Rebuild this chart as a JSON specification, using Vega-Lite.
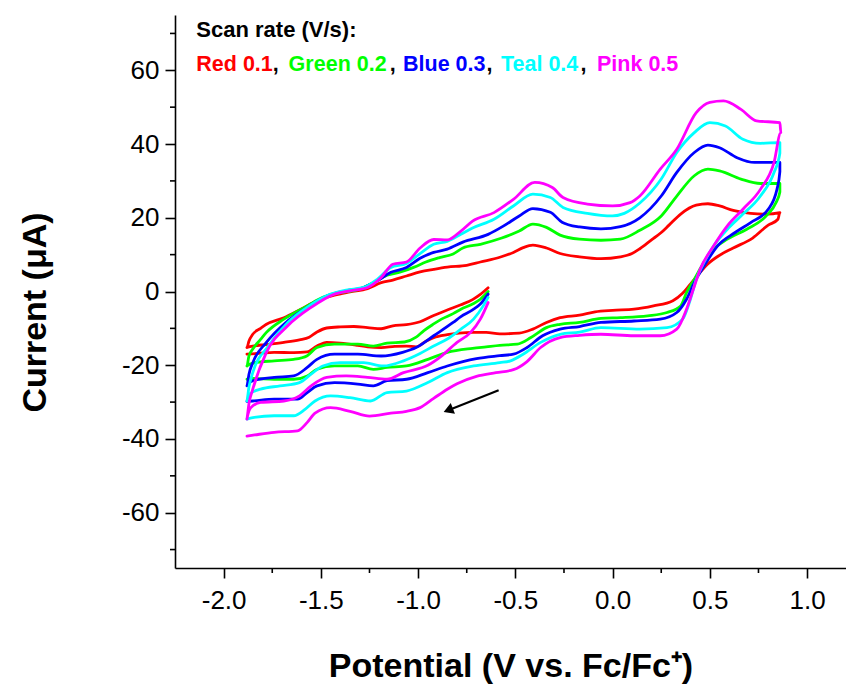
{
"$schema":"https://vega.github.io/schema/vega-lite/v6.json",
"width":671,"height":553,
"autosize":{"type":"none"},
"padding":{"left":175,"top":15,"right":0,"bottom":119},
"config":{"view":{"stroke":null},"background":"white"},
"datasets":{
"cv":[
{"s":"0.1","i":1,"x":-0.64,"y":1.0},{"s":"0.1","i":2,"x":-0.68,"y":-0.8},{"s":"0.1","i":3,"x":-0.72,"y":-2.2},{"s":"0.1","i":4,"x":-0.78,"y":-3.6},{"s":"0.1","i":5,"x":-0.85,"y":-5.0},{"s":"0.1","i":6,"x":-0.92,"y":-6.5},{"s":"0.1","i":7,"x":-0.99,"y":-8.2},{"s":"0.1","i":8,"x":-1.06,"y":-9.0},{"s":"0.1","i":9,"x":-1.13,"y":-9.3},{"s":"0.1","i":10,"x":-1.19,"y":-10.1},{"s":"0.1","i":11,"x":-1.26,"y":-9.8},{"s":"0.1","i":12,"x":-1.33,"y":-9.5},{"s":"0.1","i":13,"x":-1.40,"y":-9.6},{"s":"0.1","i":14,"x":-1.47,"y":-9.9},{"s":"0.1","i":15,"x":-1.52,"y":-11.0},{"s":"0.1","i":16,"x":-1.56,"y":-12.4},{"s":"0.1","i":17,"x":-1.61,"y":-13.1},{"s":"0.1","i":18,"x":-1.69,"y":-13.8},{"s":"0.1","i":19,"x":-1.78,"y":-14.4},{"s":"0.1","i":20,"x":-1.85,"y":-14.8},{"s":"0.1","i":21,"x":-1.88,"y":-15.2},
{"s":"0.1","i":22,"x":-1.87,"y":-13.5},{"s":"0.1","i":23,"x":-1.85,"y":-11.6},{"s":"0.1","i":24,"x":-1.81,"y":-10.0},{"s":"0.1","i":25,"x":-1.78,"y":-8.9},{"s":"0.1","i":26,"x":-1.69,"y":-7.1},{"s":"0.1","i":27,"x":-1.61,"y":-5.0},{"s":"0.1","i":28,"x":-1.52,"y":-2.5},{"s":"0.1","i":29,"x":-1.43,"y":-1.0},{"s":"0.1","i":30,"x":-1.35,"y":-0.1},{"s":"0.1","i":31,"x":-1.26,"y":0.8},{"s":"0.1","i":32,"x":-1.19,"y":2.4},{"s":"0.1","i":33,"x":-1.13,"y":3.1},{"s":"0.1","i":34,"x":-1.06,"y":4.2},{"s":"0.1","i":35,"x":-0.99,"y":5.3},{"s":"0.1","i":36,"x":-0.92,"y":6.0},{"s":"0.1","i":37,"x":-0.85,"y":6.6},{"s":"0.1","i":38,"x":-0.75,"y":7.1},{"s":"0.1","i":39,"x":-0.68,"y":8.0},{"s":"0.1","i":40,"x":-0.58,"y":9.3},{"s":"0.1","i":41,"x":-0.51,"y":10.6},{"s":"0.1","i":42,"x":-0.46,"y":11.9},{"s":"0.1","i":43,"x":-0.41,"y":12.6},{"s":"0.1","i":44,"x":-0.34,"y":11.8},{"s":"0.1","i":45,"x":-0.27,"y":10.3},{"s":"0.1","i":46,"x":-0.17,"y":9.4},{"s":"0.1","i":47,"x":-0.06,"y":8.9},{"s":"0.1","i":48,"x":0.04,"y":9.4},{"s":"0.1","i":49,"x":0.10,"y":10.3},{"s":"0.1","i":50,"x":0.14,"y":11.6},{"s":"0.1","i":51,"x":0.20,"y":14.0},{"s":"0.1","i":52,"x":0.25,"y":16.0},{"s":"0.1","i":53,"x":0.29,"y":18.0},{"s":"0.1","i":54,"x":0.35,"y":21.0},{"s":"0.1","i":55,"x":0.43,"y":23.4},{"s":"0.1","i":56,"x":0.49,"y":23.8},{"s":"0.1","i":57,"x":0.55,"y":23.2},{"s":"0.1","i":58,"x":0.62,"y":22.0},{"s":"0.1","i":59,"x":0.71,"y":21.2},{"s":"0.1","i":60,"x":0.79,"y":21.0},{"s":"0.1","i":61,"x":0.86,"y":21.4},
{"s":"0.1","i":62,"x":0.85,"y":19.6},{"s":"0.1","i":63,"x":0.80,"y":18.0},{"s":"0.1","i":64,"x":0.72,"y":14.5},{"s":"0.1","i":65,"x":0.62,"y":11.8},{"s":"0.1","i":66,"x":0.54,"y":9.5},{"s":"0.1","i":67,"x":0.48,"y":7.0},{"s":"0.1","i":68,"x":0.44,"y":4.5},{"s":"0.1","i":69,"x":0.40,"y":2.0},{"s":"0.1","i":70,"x":0.36,"y":-0.5},{"s":"0.1","i":71,"x":0.31,"y":-2.5},{"s":"0.1","i":72,"x":0.21,"y":-3.9},{"s":"0.1","i":73,"x":0.11,"y":-4.8},{"s":"0.1","i":74,"x":0.00,"y":-5.1},{"s":"0.1","i":75,"x":-0.09,"y":-5.5},{"s":"0.1","i":76,"x":-0.17,"y":-6.4},{"s":"0.1","i":77,"x":-0.27,"y":-7.1},{"s":"0.1","i":78,"x":-0.34,"y":-8.4},{"s":"0.1","i":79,"x":-0.41,"y":-10.2},{"s":"0.1","i":80,"x":-0.48,"y":-11.3},{"s":"0.1","i":81,"x":-0.58,"y":-11.5},{"s":"0.1","i":82,"x":-0.65,"y":-11.1},{"s":"0.1","i":83,"x":-0.72,"y":-11.1},{"s":"0.1","i":84,"x":-0.79,"y":-11.3},{"s":"0.1","i":85,"x":-0.85,"y":-11.7},{"s":"0.1","i":86,"x":-0.92,"y":-12.5},{"s":"0.1","i":87,"x":-0.96,"y":-13.5},{"s":"0.1","i":88,"x":-1.01,"y":-15.0},{"s":"0.1","i":89,"x":-1.06,"y":-14.8},{"s":"0.1","i":90,"x":-1.12,"y":-14.9},{"s":"0.1","i":91,"x":-1.19,"y":-15.2},{"s":"0.1","i":92,"x":-1.26,"y":-15.0},{"s":"0.1","i":93,"x":-1.31,"y":-14.6},{"s":"0.1","i":94,"x":-1.40,"y":-14.0},{"s":"0.1","i":95,"x":-1.47,"y":-13.8},{"s":"0.1","i":96,"x":-1.52,"y":-14.8},{"s":"0.1","i":97,"x":-1.57,"y":-16.4},{"s":"0.1","i":98,"x":-1.64,"y":-16.6},{"s":"0.1","i":99,"x":-1.74,"y":-16.5},{"s":"0.1","i":100,"x":-1.82,"y":-16.8},{"s":"0.1","i":101,"x":-1.88,"y":-17.0},

{"s":"0.2","i":1,"x":-0.64,"y":0.0},{"s":"0.2","i":2,"x":-0.68,"y":-2.1},{"s":"0.2","i":3,"x":-0.72,"y":-3.4},{"s":"0.2","i":4,"x":-0.78,"y":-4.8},{"s":"0.2","i":5,"x":-0.82,"y":-6.0},{"s":"0.2","i":6,"x":-0.88,"y":-7.5},{"s":"0.2","i":7,"x":-0.92,"y":-8.8},{"s":"0.2","i":8,"x":-0.97,"y":-10.6},{"s":"0.2","i":9,"x":-1.01,"y":-12.4},{"s":"0.2","i":10,"x":-1.07,"y":-13.7},{"s":"0.2","i":11,"x":-1.16,"y":-14.0},{"s":"0.2","i":12,"x":-1.23,"y":-14.8},{"s":"0.2","i":13,"x":-1.31,"y":-14.3},{"s":"0.2","i":14,"x":-1.43,"y":-14.3},{"s":"0.2","i":15,"x":-1.52,"y":-15.2},{"s":"0.2","i":16,"x":-1.57,"y":-17.4},{"s":"0.2","i":17,"x":-1.64,"y":-18.4},{"s":"0.2","i":18,"x":-1.74,"y":-18.8},{"s":"0.2","i":19,"x":-1.85,"y":-19.4},{"s":"0.2","i":20,"x":-1.88,"y":-20.2},
{"s":"0.2","i":21,"x":-1.87,"y":-17.5},{"s":"0.2","i":22,"x":-1.85,"y":-15.6},{"s":"0.2","i":23,"x":-1.81,"y":-13.0},{"s":"0.2","i":24,"x":-1.78,"y":-11.1},{"s":"0.2","i":25,"x":-1.69,"y":-7.5},{"s":"0.2","i":26,"x":-1.57,"y":-3.9},{"s":"0.2","i":27,"x":-1.49,"y":-1.6},{"s":"0.2","i":28,"x":-1.40,"y":-0.3},{"s":"0.2","i":29,"x":-1.31,"y":0.5},{"s":"0.2","i":30,"x":-1.23,"y":2.4},{"s":"0.2","i":31,"x":-1.16,"y":4.4},{"s":"0.2","i":32,"x":-1.09,"y":5.3},{"s":"0.2","i":33,"x":-1.02,"y":6.6},{"s":"0.2","i":34,"x":-0.96,"y":8.0},{"s":"0.2","i":35,"x":-0.89,"y":9.2},{"s":"0.2","i":36,"x":-0.82,"y":10.2},{"s":"0.2","i":37,"x":-0.77,"y":11.8},{"s":"0.2","i":38,"x":-0.68,"y":12.8},{"s":"0.2","i":39,"x":-0.57,"y":14.5},{"s":"0.2","i":40,"x":-0.48,"y":16.4},{"s":"0.2","i":41,"x":-0.41,"y":18.3},{"s":"0.2","i":42,"x":-0.34,"y":17.4},{"s":"0.2","i":43,"x":-0.27,"y":15.3},{"s":"0.2","i":44,"x":-0.17,"y":14.2},{"s":"0.2","i":45,"x":-0.06,"y":13.9},{"s":"0.2","i":46,"x":0.04,"y":14.2},{"s":"0.2","i":47,"x":0.14,"y":16.6},{"s":"0.2","i":48,"x":0.25,"y":20.5},{"s":"0.2","i":49,"x":0.33,"y":25.9},{"s":"0.2","i":50,"x":0.42,"y":31.4},{"s":"0.2","i":51,"x":0.49,"y":33.2},{"s":"0.2","i":52,"x":0.55,"y":32.7},{"s":"0.2","i":53,"x":0.66,"y":30.5},{"s":"0.2","i":54,"x":0.76,"y":29.3},{"s":"0.2","i":55,"x":0.86,"y":29.3},
{"s":"0.2","i":56,"x":0.86,"y":27.0},{"s":"0.2","i":57,"x":0.84,"y":24.1},{"s":"0.2","i":58,"x":0.79,"y":20.5},{"s":"0.2","i":59,"x":0.69,"y":16.9},{"s":"0.2","i":60,"x":0.59,"y":14.2},{"s":"0.2","i":61,"x":0.52,"y":11.5},{"s":"0.2","i":62,"x":0.47,"y":7.9},{"s":"0.2","i":63,"x":0.42,"y":3.3},{"s":"0.2","i":64,"x":0.38,"y":-0.3},{"s":"0.2","i":65,"x":0.35,"y":-3.9},{"s":"0.2","i":66,"x":0.28,"y":-5.7},{"s":"0.2","i":67,"x":0.18,"y":-6.6},{"s":"0.2","i":68,"x":0.04,"y":-7.1},{"s":"0.2","i":69,"x":-0.06,"y":-7.3},{"s":"0.2","i":70,"x":-0.17,"y":-8.4},{"s":"0.2","i":71,"x":-0.27,"y":-8.9},{"s":"0.2","i":72,"x":-0.34,"y":-9.8},{"s":"0.2","i":73,"x":-0.42,"y":-12.5},{"s":"0.2","i":74,"x":-0.49,"y":-14.3},{"s":"0.2","i":75,"x":-0.58,"y":-14.6},{"s":"0.2","i":76,"x":-0.65,"y":-15.0},{"s":"0.2","i":77,"x":-0.72,"y":-15.4},{"s":"0.2","i":78,"x":-0.85,"y":-16.5},{"s":"0.2","i":79,"x":-0.95,"y":-18.4},{"s":"0.2","i":80,"x":-1.06,"y":-20.2},{"s":"0.2","i":81,"x":-1.16,"y":-20.6},{"s":"0.2","i":82,"x":-1.23,"y":-21.1},{"s":"0.2","i":83,"x":-1.31,"y":-20.2},{"s":"0.2","i":84,"x":-1.43,"y":-20.2},{"s":"0.2","i":85,"x":-1.52,"y":-21.1},{"s":"0.2","i":86,"x":-1.57,"y":-22.9},{"s":"0.2","i":87,"x":-1.64,"y":-23.8},{"s":"0.2","i":88,"x":-1.74,"y":-23.8},{"s":"0.2","i":89,"x":-1.85,"y":-23.6},{"s":"0.2","i":90,"x":-1.88,"y":-23.8},

{"s":"0.3","i":1,"x":-0.64,"y":-0.7},{"s":"0.3","i":2,"x":-0.68,"y":-3.4},{"s":"0.3","i":3,"x":-0.72,"y":-5.0},{"s":"0.3","i":4,"x":-0.78,"y":-6.8},{"s":"0.3","i":5,"x":-0.82,"y":-8.4},{"s":"0.3","i":6,"x":-0.92,"y":-12.0},{"s":"0.3","i":7,"x":-1.01,"y":-15.2},{"s":"0.3","i":8,"x":-1.08,"y":-16.5},{"s":"0.3","i":9,"x":-1.19,"y":-17.5},{"s":"0.3","i":10,"x":-1.31,"y":-17.0},{"s":"0.3","i":11,"x":-1.43,"y":-17.0},{"s":"0.3","i":12,"x":-1.52,"y":-18.4},{"s":"0.3","i":13,"x":-1.57,"y":-20.6},{"s":"0.3","i":14,"x":-1.64,"y":-22.9},{"s":"0.3","i":15,"x":-1.74,"y":-23.3},{"s":"0.3","i":16,"x":-1.85,"y":-24.2},{"s":"0.3","i":17,"x":-1.88,"y":-25.6},
{"s":"0.3","i":18,"x":-1.87,"y":-22.5},{"s":"0.3","i":19,"x":-1.85,"y":-19.3},{"s":"0.3","i":20,"x":-1.78,"y":-13.8},{"s":"0.3","i":21,"x":-1.68,"y":-8.4},{"s":"0.3","i":22,"x":-1.57,"y":-4.3},{"s":"0.3","i":23,"x":-1.47,"y":-1.2},{"s":"0.3","i":24,"x":-1.37,"y":0.2},{"s":"0.3","i":25,"x":-1.28,"y":1.1},{"s":"0.3","i":26,"x":-1.21,"y":2.9},{"s":"0.3","i":27,"x":-1.14,"y":5.2},{"s":"0.3","i":28,"x":-1.06,"y":6.5},{"s":"0.3","i":29,"x":-0.99,"y":9.0},{"s":"0.3","i":30,"x":-0.92,"y":10.6},{"s":"0.3","i":31,"x":-0.85,"y":11.5},{"s":"0.3","i":32,"x":-0.77,"y":13.4},{"s":"0.3","i":33,"x":-0.64,"y":15.5},{"s":"0.3","i":34,"x":-0.56,"y":17.8},{"s":"0.3","i":35,"x":-0.48,"y":20.5},{"s":"0.3","i":36,"x":-0.41,"y":22.5},{"s":"0.3","i":37,"x":-0.32,"y":21.5},{"s":"0.3","i":38,"x":-0.26,"y":18.8},{"s":"0.3","i":39,"x":-0.17,"y":17.5},{"s":"0.3","i":40,"x":-0.06,"y":17.0},{"s":"0.3","i":41,"x":0.04,"y":17.6},{"s":"0.3","i":42,"x":0.14,"y":20.0},{"s":"0.3","i":43,"x":0.25,"y":25.9},{"s":"0.3","i":44,"x":0.33,"y":32.3},{"s":"0.3","i":45,"x":0.42,"y":37.7},{"s":"0.3","i":46,"x":0.49,"y":39.7},{"s":"0.3","i":47,"x":0.55,"y":39.0},{"s":"0.3","i":48,"x":0.64,"y":36.3},{"s":"0.3","i":49,"x":0.73,"y":35.0},{"s":"0.3","i":50,"x":0.86,"y":35.0},
{"s":"0.3","i":51,"x":0.86,"y":32.5},{"s":"0.3","i":52,"x":0.845,"y":27.7},{"s":"0.3","i":53,"x":0.80,"y":22.3},{"s":"0.3","i":54,"x":0.71,"y":18.7},{"s":"0.3","i":55,"x":0.63,"y":16.0},{"s":"0.3","i":56,"x":0.54,"y":12.4},{"s":"0.3","i":57,"x":0.47,"y":6.9},{"s":"0.3","i":58,"x":0.42,"y":2.4},{"s":"0.3","i":59,"x":0.38,"y":-2.1},{"s":"0.3","i":60,"x":0.33,"y":-5.7},{"s":"0.3","i":61,"x":0.245,"y":-7.5},{"s":"0.3","i":62,"x":0.11,"y":-8.0},{"s":"0.3","i":63,"x":-0.06,"y":-8.4},{"s":"0.3","i":64,"x":-0.17,"y":-9.5},{"s":"0.3","i":65,"x":-0.27,"y":-10.2},{"s":"0.3","i":66,"x":-0.36,"y":-12.0},{"s":"0.3","i":67,"x":-0.44,"y":-15.2},{"s":"0.3","i":68,"x":-0.51,"y":-17.0},{"s":"0.3","i":69,"x":-0.58,"y":-17.4},{"s":"0.3","i":70,"x":-0.70,"y":-18.2},{"s":"0.3","i":71,"x":-0.85,"y":-20.2},{"s":"0.3","i":72,"x":-0.95,"y":-22.0},{"s":"0.3","i":73,"x":-1.06,"y":-23.8},{"s":"0.3","i":74,"x":-1.16,"y":-24.2},{"s":"0.3","i":75,"x":-1.23,"y":-25.6},{"s":"0.3","i":76,"x":-1.31,"y":-25.1},{"s":"0.3","i":77,"x":-1.43,"y":-24.7},{"s":"0.3","i":78,"x":-1.52,"y":-25.6},{"s":"0.3","i":79,"x":-1.57,"y":-27.4},{"s":"0.3","i":80,"x":-1.62,"y":-29.2},{"s":"0.3","i":81,"x":-1.74,"y":-29.2},{"s":"0.3","i":82,"x":-1.85,"y":-29.7},{"s":"0.3","i":83,"x":-1.88,"y":-29.8},

{"s":"0.4","i":1,"x":-0.64,"y":-1.6},{"s":"0.4","i":2,"x":-0.665,"y":-3.9},{"s":"0.4","i":3,"x":-0.715,"y":-7.5},{"s":"0.4","i":4,"x":-0.78,"y":-10.2},{"s":"0.4","i":5,"x":-0.85,"y":-12.9},{"s":"0.4","i":6,"x":-0.92,"y":-14.8},{"s":"0.4","i":7,"x":-0.99,"y":-16.8},{"s":"0.4","i":8,"x":-1.075,"y":-18.8},{"s":"0.4","i":9,"x":-1.18,"y":-20.2},{"s":"0.4","i":10,"x":-1.28,"y":-19.3},{"s":"0.4","i":11,"x":-1.40,"y":-19.3},{"s":"0.4","i":12,"x":-1.49,"y":-20.2},{"s":"0.4","i":13,"x":-1.55,"y":-22.4},{"s":"0.4","i":14,"x":-1.61,"y":-24.7},{"s":"0.4","i":15,"x":-1.71,"y":-25.6},{"s":"0.4","i":16,"x":-1.81,"y":-26.5},{"s":"0.4","i":17,"x":-1.86,"y":-27.6},{"s":"0.4","i":18,"x":-1.88,"y":-29.7},
{"s":"0.4","i":19,"x":-1.87,"y":-26.0},{"s":"0.4","i":20,"x":-1.85,"y":-22.0},{"s":"0.4","i":21,"x":-1.77,"y":-14.8},{"s":"0.4","i":22,"x":-1.67,"y":-8.4},{"s":"0.4","i":23,"x":-1.56,"y":-3.9},{"s":"0.4","i":24,"x":-1.45,"y":-0.7},{"s":"0.4","i":25,"x":-1.37,"y":0.4},{"s":"0.4","i":26,"x":-1.28,"y":1.1},{"s":"0.4","i":27,"x":-1.21,"y":3.3},{"s":"0.4","i":28,"x":-1.14,"y":6.5},{"s":"0.4","i":29,"x":-1.06,"y":7.6},{"s":"0.4","i":30,"x":-0.99,"y":10.3},{"s":"0.4","i":31,"x":-0.92,"y":12.8},{"s":"0.4","i":32,"x":-0.85,"y":13.6},{"s":"0.4","i":33,"x":-0.78,"y":15.5},{"s":"0.4","i":34,"x":-0.72,"y":17.2},{"s":"0.4","i":35,"x":-0.61,"y":19.6},{"s":"0.4","i":36,"x":-0.51,"y":23.2},{"s":"0.4","i":37,"x":-0.41,"y":26.4},{"s":"0.4","i":38,"x":-0.32,"y":25.5},{"s":"0.4","i":39,"x":-0.255,"y":22.8},{"s":"0.4","i":40,"x":-0.13,"y":21.2},{"s":"0.4","i":41,"x":0.00,"y":20.5},{"s":"0.4","i":42,"x":0.06,"y":21.2},{"s":"0.4","i":43,"x":0.14,"y":24.0},{"s":"0.4","i":44,"x":0.25,"y":30.5},{"s":"0.4","i":45,"x":0.33,"y":37.7},{"s":"0.4","i":46,"x":0.42,"y":43.1},{"s":"0.4","i":47,"x":0.50,"y":45.8},{"s":"0.4","i":48,"x":0.58,"y":44.9},{"s":"0.4","i":49,"x":0.67,"y":41.3},{"s":"0.4","i":50,"x":0.76,"y":40.2},{"s":"0.4","i":51,"x":0.86,"y":40.4},
{"s":"0.4","i":52,"x":0.86,"y":37.5},{"s":"0.4","i":53,"x":0.83,"y":32.3},{"s":"0.4","i":54,"x":0.76,"y":25.9},{"s":"0.4","i":55,"x":0.66,"y":20.5},{"s":"0.4","i":56,"x":0.59,"y":16.9},{"s":"0.4","i":57,"x":0.52,"y":12.4},{"s":"0.4","i":58,"x":0.47,"y":7.9},{"s":"0.4","i":59,"x":0.43,"y":3.3},{"s":"0.4","i":60,"x":0.40,"y":-2.1},{"s":"0.4","i":61,"x":0.36,"y":-7.5},{"s":"0.4","i":62,"x":0.28,"y":-9.8},{"s":"0.4","i":63,"x":0.14,"y":-10.2},{"s":"0.4","i":64,"x":-0.06,"y":-9.8},{"s":"0.4","i":65,"x":-0.17,"y":-11.0},{"s":"0.4","i":66,"x":-0.27,"y":-11.6},{"s":"0.4","i":67,"x":-0.37,"y":-13.8},{"s":"0.4","i":68,"x":-0.46,"y":-17.0},{"s":"0.4","i":69,"x":-0.525,"y":-18.8},{"s":"0.4","i":70,"x":-0.58,"y":-19.3},{"s":"0.4","i":71,"x":-0.715,"y":-20.2},{"s":"0.4","i":72,"x":-0.85,"y":-22.0},{"s":"0.4","i":73,"x":-0.95,"y":-24.7},{"s":"0.4","i":74,"x":-1.06,"y":-27.0},{"s":"0.4","i":75,"x":-1.16,"y":-27.4},{"s":"0.4","i":76,"x":-1.245,"y":-29.7},{"s":"0.4","i":77,"x":-1.35,"y":-28.8},{"s":"0.4","i":78,"x":-1.45,"y":-28.3},{"s":"0.4","i":79,"x":-1.53,"y":-29.7},{"s":"0.4","i":80,"x":-1.58,"y":-31.9},{"s":"0.4","i":81,"x":-1.64,"y":-33.7},{"s":"0.4","i":82,"x":-1.74,"y":-33.7},{"s":"0.4","i":83,"x":-1.85,"y":-34.2},{"s":"0.4","i":84,"x":-1.88,"y":-34.6},

{"s":"0.5","i":1,"x":-0.64,"y":-3.0},{"s":"0.5","i":2,"x":-0.68,"y":-7.5},{"s":"0.5","i":3,"x":-0.73,"y":-11.1},{"s":"0.5","i":4,"x":-0.80,"y":-13.8},{"s":"0.5","i":5,"x":-0.88,"y":-17.5},{"s":"0.5","i":6,"x":-0.95,"y":-20.0},{"s":"0.5","i":7,"x":-1.075,"y":-22.0},{"s":"0.5","i":8,"x":-1.16,"y":-23.8},{"s":"0.5","i":9,"x":-1.26,"y":-23.3},{"s":"0.5","i":10,"x":-1.37,"y":-22.9},{"s":"0.5","i":11,"x":-1.47,"y":-23.3},{"s":"0.5","i":12,"x":-1.55,"y":-25.6},{"s":"0.5","i":13,"x":-1.61,"y":-28.3},{"s":"0.5","i":14,"x":-1.69,"y":-29.7},{"s":"0.5","i":15,"x":-1.81,"y":-30.1},{"s":"0.5","i":16,"x":-1.86,"y":-31.5},{"s":"0.5","i":17,"x":-1.88,"y":-34.6},
{"s":"0.5","i":18,"x":-1.87,"y":-30.5},{"s":"0.5","i":19,"x":-1.85,"y":-26.5},{"s":"0.5","i":20,"x":-1.78,"y":-16.5},{"s":"0.5","i":21,"x":-1.67,"y":-9.3},{"s":"0.5","i":22,"x":-1.55,"y":-4.3},{"s":"0.5","i":23,"x":-1.43,"y":-0.7},{"s":"0.5","i":24,"x":-1.35,"y":0.2},{"s":"0.5","i":25,"x":-1.26,"y":1.1},{"s":"0.5","i":26,"x":-1.19,"y":3.8},{"s":"0.5","i":27,"x":-1.13,"y":7.4},{"s":"0.5","i":28,"x":-1.06,"y":8.0},{"s":"0.5","i":29,"x":-0.99,"y":11.8},{"s":"0.5","i":30,"x":-0.92,"y":14.1},{"s":"0.5","i":31,"x":-0.85,"y":14.0},{"s":"0.5","i":32,"x":-0.78,"y":16.4},{"s":"0.5","i":33,"x":-0.72,"y":19.1},{"s":"0.5","i":34,"x":-0.61,"y":21.4},{"s":"0.5","i":35,"x":-0.51,"y":25.0},{"s":"0.5","i":36,"x":-0.40,"y":29.6},{"s":"0.5","i":37,"x":-0.31,"y":28.2},{"s":"0.5","i":38,"x":-0.255,"y":25.5},{"s":"0.5","i":39,"x":-0.13,"y":23.7},{"s":"0.5","i":40,"x":0.00,"y":23.2},{"s":"0.5","i":41,"x":0.09,"y":24.1},{"s":"0.5","i":42,"x":0.14,"y":25.9},{"s":"0.5","i":43,"x":0.245,"y":33.2},{"s":"0.5","i":44,"x":0.33,"y":38.6},{"s":"0.5","i":45,"x":0.43,"y":48.5},{"s":"0.5","i":46,"x":0.50,"y":51.3},{"s":"0.5","i":47,"x":0.57,"y":51.7},{"s":"0.5","i":48,"x":0.66,"y":49.4},{"s":"0.5","i":49,"x":0.74,"y":46.3},{"s":"0.5","i":50,"x":0.86,"y":45.8},
{"s":"0.5","i":51,"x":0.865,"y":43.1},{"s":"0.5","i":52,"x":0.83,"y":35.0},{"s":"0.5","i":53,"x":0.76,"y":27.7},{"s":"0.5","i":54,"x":0.67,"y":22.3},{"s":"0.5","i":55,"x":0.59,"y":17.8},{"s":"0.5","i":56,"x":0.52,"y":12.4},{"s":"0.5","i":57,"x":0.45,"y":6.0},{"s":"0.5","i":58,"x":0.415,"y":0.6},{"s":"0.5","i":59,"x":0.38,"y":-4.8},{"s":"0.5","i":60,"x":0.33,"y":-10.2},{"s":"0.5","i":61,"x":0.245,"y":-12.0},{"s":"0.5","i":62,"x":0.11,"y":-12.0},{"s":"0.5","i":63,"x":-0.06,"y":-11.6},{"s":"0.5","i":64,"x":-0.17,"y":-11.9},{"s":"0.5","i":65,"x":-0.27,"y":-12.5},{"s":"0.5","i":66,"x":-0.37,"y":-15.2},{"s":"0.5","i":67,"x":-0.44,"y":-19.0},{"s":"0.5","i":68,"x":-0.51,"y":-21.2},{"s":"0.5","i":69,"x":-0.60,"y":-22.0},{"s":"0.5","i":70,"x":-0.70,"y":-23.0},{"s":"0.5","i":71,"x":-0.80,"y":-25.0},{"s":"0.5","i":72,"x":-0.85,"y":-26.5},{"s":"0.5","i":73,"x":-0.92,"y":-29.0},{"s":"0.5","i":74,"x":-0.99,"y":-31.5},{"s":"0.5","i":75,"x":-1.06,"y":-32.5},{"s":"0.5","i":76,"x":-1.14,"y":-33.0},{"s":"0.5","i":77,"x":-1.25,"y":-33.8},{"s":"0.5","i":78,"x":-1.35,"y":-32.5},{"s":"0.5","i":79,"x":-1.45,"y":-31.5},{"s":"0.5","i":80,"x":-1.53,"y":-33.0},{"s":"0.5","i":81,"x":-1.57,"y":-35.5},{"s":"0.5","i":82,"x":-1.62,"y":-37.8},{"s":"0.5","i":83,"x":-1.74,"y":-38.2},{"s":"0.5","i":84,"x":-1.84,"y":-38.9},{"s":"0.5","i":85,"x":-1.88,"y":-39.2}
],
"heading":[{"t":"Scan rate (V/s):","x":-2.1404,"y":68.9}],
"legendtext":[
{"t":"Red 0.1","s":"0.1","x":-2.1404,"y":59.8},
{"t":",","s":"sep","x":-1.747,"y":59.8},
{"t":"Green 0.2","s":"0.2","x":-1.6658,"y":59.8},
{"t":",","s":"sep","x":-1.1455,"y":59.8},
{"t":"Blue 0.3","s":"0.3","x":-1.0776,"y":59.8},
{"t":",","s":"sep","x":-0.6478,"y":59.8},
{"t":"Teal 0.4","s":"0.4","x":-0.5738,"y":59.8},
{"t":",","s":"sep","x":-0.1645,"y":59.8},
{"t":"Pink 0.5","s":"0.5","x":-0.0802,"y":59.8}
],
"arrow":[{"x":-0.586,"y":-26.8,"xe":-0.845,"ye":-32.2}],
"yminor":[{"v":-70},{"v":-50},{"v":-30},{"v":-10},{"v":10},{"v":30},{"v":50},{"v":70}],
"xminor":[{"v":-1.75},{"v":-1.25},{"v":-0.75},{"v":-0.25},{"v":0.25},{"v":0.75}]
},
"layer":[
{"data":{"name":"cv"},
 "mark":{"type":"line","strokeWidth":2.8,"strokeJoin":"round","strokeCap":"round","interpolate":"monotone"},
 "encoding":{
  "x":{"field":"x","type":"quantitative","scale":{"domain":[-2.25,1.2],"nice":false,"zero":false},
   "axis":{"title":"Potential (V vs. Fc/Fc⁺)","values":[-2,-1.5,-1,-0.5,0,0.5,1],
    "labelExpr":"replace(format(datum.value,'.1f'),'−','-')",
    "tickSize":10,
    "grid":false,"domainColor":"black","domainWidth":1.6,"tickColor":"black","tickWidth":1.6,
    "labelFont":"Liberation Sans","labelFontSize":26,"labelColor":"black","labelPadding":9,"labelFlush":false,"labelOverlap":false,
    "titleFont":"Liberation Sans","titleFontSize":34,"titleFontWeight":"bold","titleColor":"black","titlePadding":36}},
  "y":{"field":"y","type":"quantitative","scale":{"domain":[-75,75],"nice":false,"zero":false},
   "axis":{"title":"Current (μA)","values":[-60,-40,-20,0,20,40,60],
    "labelExpr":"replace(format(datum.value,'d'),'−','-')",
    "tickSize":10,
    "grid":false,"domainColor":"black","domainWidth":1.6,"tickColor":"black","tickWidth":1.6,
    "labelFont":"Liberation Sans","labelFontSize":26,"labelColor":"black","labelPadding":6,"labelFlush":false,"labelOverlap":false,
    "titleFont":"Liberation Sans","titleFontSize":34,"titleFontWeight":"bold","titleColor":"black",
    "titleX":-130,"titleY":297,"titleBaseline":"alphabetic"}},
  "color":{"field":"s","type":"nominal","legend":null,
   "scale":{"domain":["0.1","0.2","0.3","0.4","0.5","sep"],"range":["#ff0000","#00ff00","#0000ff","#00ffff","#ff00ff","#000000"]}},
  "order":{"field":"i","type":"quantitative"}
 }},
{"data":{"name":"yminor"},
 "mark":{"type":"tick","orient":"horizontal","size":5,"thickness":1.6,"color":"black","opacity":1,"xOffset":-2.5},
 "encoding":{
  "y":{"field":"v","type":"quantitative"},
  "x":{"datum":-2.25,"type":"quantitative"}}},
{"data":{"name":"xminor"},
 "mark":{"type":"tick","orient":"vertical","size":5,"thickness":1.6,"color":"black","opacity":1,"yOffset":2.5},
 "encoding":{
  "x":{"field":"v","type":"quantitative"},
  "y":{"datum":-75,"type":"quantitative"}}},
{"data":{"name":"arrow"},
 "mark":{"type":"rule","strokeWidth":2.2,"color":"black"},
 "encoding":{
  "x":{"field":"x","type":"quantitative"},
  "y":{"field":"y","type":"quantitative"},
  "x2":{"field":"xe"},"y2":{"field":"ye"}}},
{"data":{"name":"arrow"},
 "mark":{"type":"point","shape":"triangle-up","filled":true,"color":"black","opacity":1,"size":130,"angle":248.3},
 "encoding":{
  "x":{"field":"xe","type":"quantitative"},
  "y":{"field":"ye","type":"quantitative"}}},
{"data":{"name":"heading"},
 "mark":{"type":"text","font":"Liberation Sans","fontWeight":"bold","fontSize":22,"align":"left","baseline":"alphabetic","color":"black"},
 "encoding":{
  "x":{"field":"x","type":"quantitative"},
  "y":{"field":"y","type":"quantitative"},
  "text":{"field":"t"}}},
{"data":{"name":"legendtext"},
 "mark":{"type":"text","font":"Liberation Sans","fontWeight":"bold","fontSize":21.5,"align":"left","baseline":"alphabetic"},
 "encoding":{
  "x":{"field":"x","type":"quantitative"},
  "y":{"field":"y","type":"quantitative"},
  "text":{"field":"t"},
  "color":{"field":"s","type":"nominal","legend":null}}}
]
}
